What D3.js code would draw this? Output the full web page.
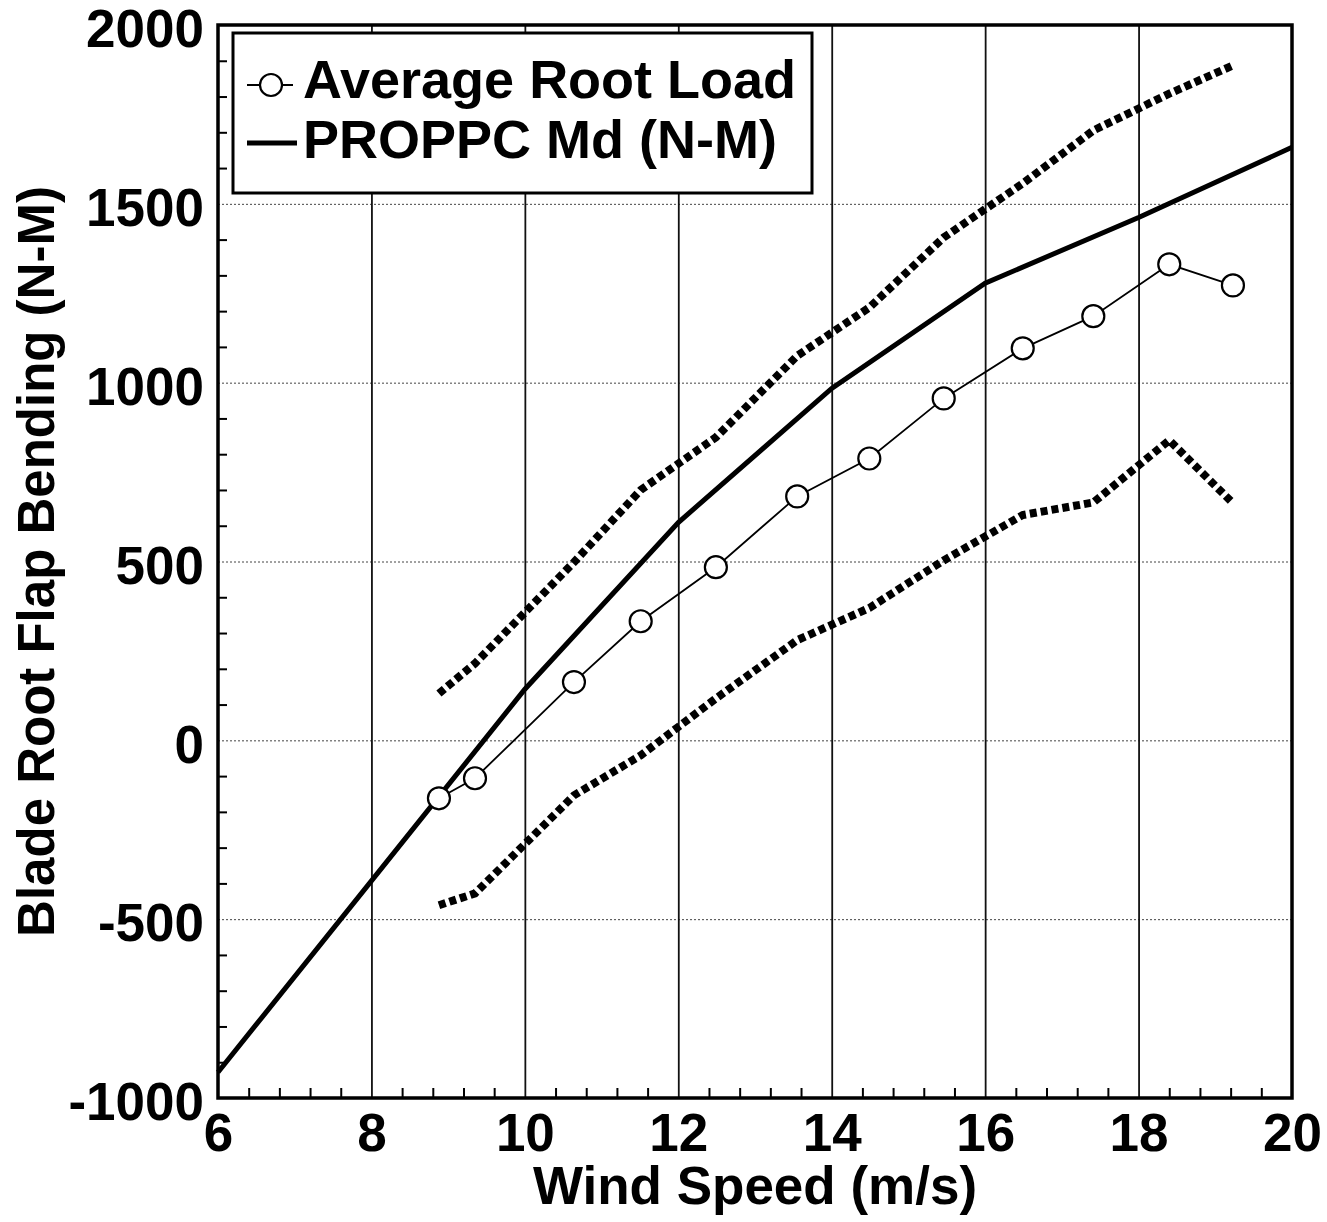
<!DOCTYPE html>
<head>
    <meta charset="utf-8">
    <title>Blade Root Flap Bending vs Wind Speed</title>
    <style>
        body { margin: 0; background: #fff; }
        text { font-family: 'Liberation Sans', Arial, Helvetica, sans-serif; font-weight: bold; fill: #000; }
    </style>
</head>
<body>

<svg width="1327" height="1222"></svg>

<script src="https://d3js.org/d3.v7.min.js"></script>

<script>

// measured bins (wind speed m/s) and root loads (N-M)
var windSpeed = [8.88, 9.35, 10.64, 11.51, 12.49, 13.55, 14.49, 15.46, 16.49, 17.41, 18.40, 19.23];
var avgLoad   = [-162, -106, 163, 333, 484, 682, 788, 956, 1096, 1186, 1331, 1272];
var upperLoad = [131, 215, 498, 700, 847, 1075, 1210, 1406, 1557, 1705, 1808, 1887];
var lowerLoad = [-461, -428, -154, -42, 117, 280, 370, 503, 630, 665, 839, 663];

// PROPPC model
var modelWind = [6, 8, 10, 12, 14, 16, 18, 20];
var modelLoad = [-928, -393, 143, 609, 984, 1278, 1462, 1658];

var xTicks = [6, 8, 10, 12, 14, 16, 18, 20];
var yTicks = [-1000, -500, 0, 500, 1000, 1500, 2000];
var legendLabels = ['Average Root Load', 'PROPPC Md (N-M)'];

var svg = d3.select('svg'),
    margin = {top: 25, right: 35, bottom: 124, left: 218},
    width = +svg.attr('width') - margin.left - margin.right,
    height = +svg.attr('height') - margin.top - margin.bottom,
    g = svg.append('g').attr('transform', `translate(${margin.left},${margin.top})`);

var x = d3.scaleLinear().domain([6, 20]).range([0, width]);
var y = d3.scaleLinear().domain([-1000, 2000]).range([height, 0]);

var font = "'Liberation Sans', Arial, Helvetica, sans-serif";

// horizontal grid (dotted)
g.append('g')
    .call(d3.axisLeft(y).tickValues(yTicks.slice(1, -1)).tickSize(-width).tickFormat(''))
    .call(a => a.select('.domain').remove())
    .selectAll('line')
        .attr('stroke', '#444')
        .attr('stroke-width', 1)
        .attr('stroke-dasharray', '2,2');

// vertical grid
g.append('g')
    .attr('transform', `translate(0,${height})`)
    .call(d3.axisBottom(x).tickValues(xTicks.slice(1, -1)).tickSize(-height).tickFormat(''))
    .call(a => a.select('.domain').remove())
    .selectAll('line')
        .attr('stroke', '#111')
        .attr('stroke-width', 1.8);

// minor ticks, inward
var xMinor = d3.range(6, 20.001, 0.4).filter(v => Math.abs(v / 2 - Math.round(v / 2)) > 0.01);
var yMinor = d3.range(-1000, 2001, 100).filter(v => v % 500 !== 0);

g.append('g')
    .attr('transform', `translate(0,${height})`)
    .call(d3.axisBottom(x).tickValues(xMinor).tickSize(-10).tickFormat(''))
    .call(a => a.select('.domain').remove())
    .selectAll('line').attr('stroke', '#000').attr('stroke-width', 2);

g.append('g')
    .call(d3.axisLeft(y).tickValues(yMinor).tickSize(-9).tickFormat(''))
    .call(a => a.select('.domain').remove())
    .selectAll('line').attr('stroke', '#000').attr('stroke-width', 2);

// tick labels
g.append('g')
    .attr('transform', `translate(0,${height})`)
    .call(d3.axisBottom(x).tickValues(xTicks).tickSize(0).tickPadding(15).tickFormat(d => String(d)))
    .call(a => a.select('.domain').remove())
    .selectAll('text')
        .style('font-size', '53px')
        .style('font-family', font)
        .style('font-weight', 'bold')
        .attr('fill', '#000');

g.append('g')
    .call(d3.axisLeft(y).tickValues(yTicks).tickSize(0).tickPadding(14).tickFormat(d => String(d)))
    .call(a => a.select('.domain').remove())
    .selectAll('text')
        .attr('dy', '0.41em')
        .style('font-size', '53px')
        .style('font-family', font)
        .style('font-weight', 'bold')
        .attr('fill', '#000');

// dotted upper / lower bands
var dotted = d3.line().x((d, i) => x(windSpeed[i])).y(d => y(d));
[upperLoad, lowerLoad].forEach(arr => {
    g.append('path')
        .attr('d', dotted(arr))
        .attr('fill', 'none')
        .attr('stroke', '#000')
        .attr('stroke-width', 8)
        .attr('stroke-dasharray', '7,4');
});

// PROPPC model line
g.append('path')
    .attr('d', d3.line().x((d, i) => x(modelWind[i])).y(d => y(d))(modelLoad))
    .attr('fill', 'none')
    .attr('stroke', '#000')
    .attr('stroke-width', 5);

// average root load
g.append('path')
    .attr('d', d3.line().x((d, i) => x(windSpeed[i])).y(d => y(d))(avgLoad))
    .attr('fill', 'none')
    .attr('stroke', '#000')
    .attr('stroke-width', 1.8);

g.selectAll('.pt')
    .data(avgLoad)
    .enter().append('circle')
        .attr('class', 'pt')
        .attr('cx', (d, i) => x(windSpeed[i]))
        .attr('cy', d => y(d))
        .attr('r', 11)
        .attr('fill', '#fff')
        .attr('stroke', '#000')
        .attr('stroke-width', 2.2);

// frame
g.append('rect')
    .attr('width', width)
    .attr('height', height)
    .attr('fill', 'none')
    .attr('stroke', '#000')
    .attr('stroke-width', 3.5);

// legend
var lg = g.append('g').attr('transform', 'translate(15,8)');
lg.append('rect')
    .attr('width', 579)
    .attr('height', 160)
    .attr('fill', '#fff')
    .attr('stroke', '#000')
    .attr('stroke-width', 3);

lg.append('line')
    .attr('x1', 14).attr('x2', 60).attr('y1', 52).attr('y2', 52)
    .attr('stroke', '#000').attr('stroke-width', 1.8);
lg.append('circle')
    .attr('cx', 38).attr('cy', 52).attr('r', 11)
    .attr('fill', '#fff').attr('stroke', '#000').attr('stroke-width', 2.2);
lg.append('line')
    .attr('x1', 14).attr('x2', 64).attr('y1', 110).attr('y2', 110)
    .attr('stroke', '#000').attr('stroke-width', 5);

lg.selectAll('.lbl')
    .data(legendLabels)
    .enter().append('text')
        .attr('class', 'lbl')
        .attr('x', 70)
        .attr('y', (d, i) => 65 + i * 60)
        .style('font-size', '54px')
        .text(d => d);

// axis titles
svg.append('text')
    .attr('x', margin.left + width / 2)
    .attr('y', 1204)
    .attr('text-anchor', 'middle')
    .style('font-size', '53px')
    .text('Wind Speed (m/s)');

svg.append('text')
    .attr('transform', `translate(54,${margin.top + height / 2}) rotate(-90)`)
    .attr('text-anchor', 'middle')
    .style('font-size', '51px')
    .text('Blade Root Flap Bending (N-M)');

</script>

</body>
